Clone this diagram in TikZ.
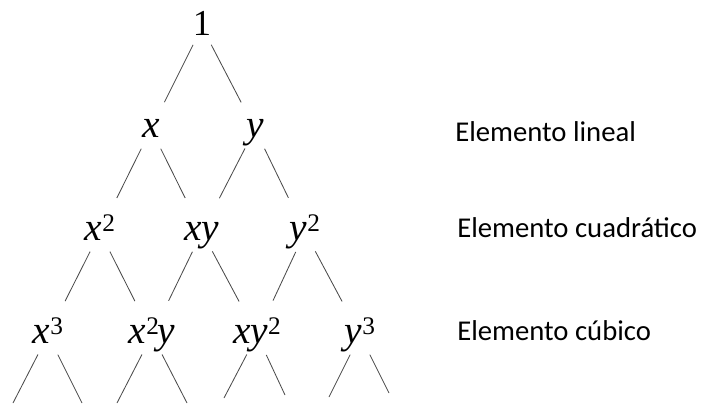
\documentclass[tikz,border=0pt]{standalone}
\usepackage{fontspec}
\setmainfont{Liberation Serif}
\newfontfamily\lblfont{Carlito}
\usetikzlibrary{positioning}
\newcommand{\pw}[1]{\raisebox{6pt}{\fontsize{18}{20}\selectfont #1}}

\begin{document}
\begin{tikzpicture}[
        x=0.025cm, y=-0.025cm,
        term/.style={inner sep=0pt, text height=0.5cm, text depth=0.1cm, font=\fontsize{28}{34}\selectfont},
        branch/.style={draw=black!70, line width=0.6pt, shorten <=0.55cm, shorten >=0.95cm},
        stub/.style={draw=black!70, line width=0.6pt, shorten <=0.55cm},
        level/.style={anchor=base west, inner sep=0pt, font=\lblfont\fontsize{20.4}{24}\selectfont}
    ]
%
    \useasboundingbox (0,0) rectangle (704,403);
%
    % Terms
    \node[term, font=\fontsize{26}{32}\selectfont] (one) at (202,27) {1};
    \node[term] (x) at (151,129) {\textit{x}};
    \node[term] (y) at (255,129) {\textit{y}};
    \node[term] (xx) at (100,232) {\textit{x}\pw{2}};
    \node[term] (xy) at (202,232) {\textit{xy}};
    \node[term] (yy) at (305,232) {\textit{y}\pw{2}};
    \node[term] (xxx) at (48,335) {\textit{x}\pw{3}};
    \node[term] (xxy) at (152,335) {\textit{x}\pw{2}\kern-1pt\textit{y}};
    \node[term] (xyy) at (257,335) {\textit{xy}\pw{2}};
    \node[term] (yyy) at (360,335) {\textit{y}\pw{3}};
%
    % Branches
    \draw[branch, shorten <=0.5cm, shorten >=0.75cm] (one.center) -- (x.center);
    \draw[branch, shorten <=0.5cm, shorten >=0.75cm] (one.center) -- (y.center);
    \foreach \a/\b in {x/xx, x/xy, y/xy, y/yy, xx/xxx, xx/xxy, xy/xxy, xy/xyy, yy/xyy, yy/yyy}
        \draw[branch] (\a.center) -- (\b.center);
%
    % Open ends at the bottom
    \foreach \n/\xl/\yl/\xr/\yr in {xxx/13/403/82/403, xxy/117/403/187/403, xyy/224/398/285/395, yyy/329/397/389/393} {
        \coordinate (\n-l) at (\xl,\yl);
        \coordinate (\n-r) at (\xr,\yr);
        \draw[stub] (\n.center) -- (\n-l);
        \draw[stub] (\n.center) -- (\n-r);
    }
%
    % Levels
    \node[level] (lineal) at (455,141) {Elemento lineal};
    \node[level] (cuad) at (457,237) {Elemento cuadrático};
    \node[level] (cub) at (457,340) {Elemento cúbico};
%
\end{tikzpicture}
\end{document}
